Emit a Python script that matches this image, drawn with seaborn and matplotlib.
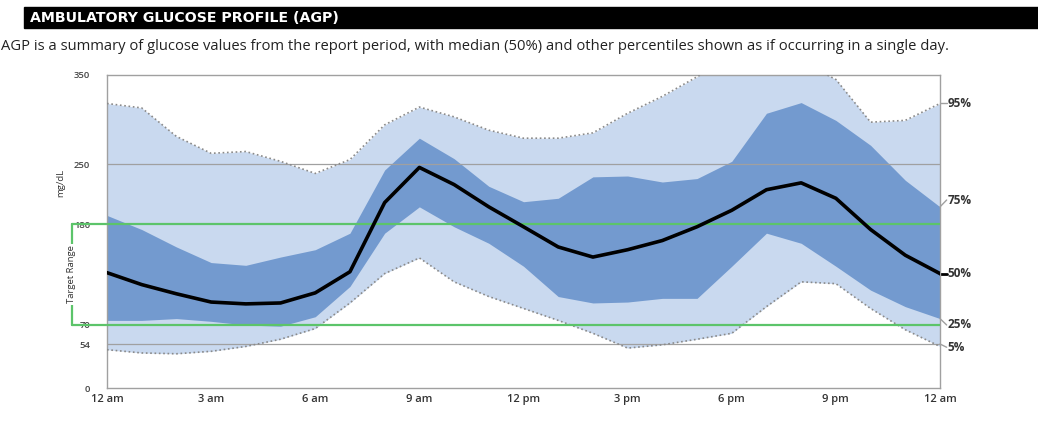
import numpy as np
import pandas as pd
import matplotlib
matplotlib.use('Agg')
import matplotlib.pyplot as plt
import seaborn as sns

sns.set_style("white")
plt.rcParams['font.family'] = ['Open Sans', 'DejaVu Sans']

# glucose percentiles (mg/dL), hourly from 12 am to 12 am
hours = list(range(25))
p95 = [318, 313, 281, 262, 264, 253, 239, 255, 294, 314, 303, 288, 279,
       279, 285, 307, 326, 348, 370, 375, 365, 345, 297, 299, 318]
p75 = [190, 174, 155, 138, 135, 144, 152, 170, 243, 279, 256, 224, 206,
       210, 235, 236, 229, 233, 253, 307, 319, 299, 271, 231, 200]
p50 = [127, 114, 104, 95, 93, 94, 105, 128, 205, 246, 226, 200, 177,
       155, 144, 152, 162, 177, 196, 220, 228, 210, 174, 146, 126]
p25 = [75, 75, 77, 74, 70, 69, 79, 112, 170, 200, 177, 159, 134,
       101, 94, 95, 99, 99, 134, 170, 159, 134, 108, 90, 77]
p05 = [47, 43, 42, 45, 51, 58, 67, 94, 126, 143, 117, 101, 88,
       75, 63, 49, 53, 58, 63, 90, 117, 115, 88, 66, 51]

y_ticks = [0, 54, 70, 180, 250, 350]
x_ticks = [0, 3, 6, 9, 12, 15, 18, 21, 24]
x_labels = ["12 am", "3 am", "6 am", "9 am", "12 pm", "3 pm", "6 pm", "9 pm", "12 am"]
pct_labels = ["95%", "75%", "50%", "25%", "5%"]

df = pd.DataFrame({"hour": hours, "p95": p95, "p75": p75, "p50": p50,
                   "p25": p25, "p05": p05})

# the report stretches the glucose axis unevenly between its tick values
_vals = np.array([-100, 0, 54, 70, 180, 250, 350, 500], dtype=float)
_pix = np.array([-81, 0, 44, 63, 164, 224, 313, 446.5])


def _fwd(v):
    return np.interp(v, _vals, _pix)


def _inv(u):
    return np.interp(u, _pix, _vals)


LIGHT = "#c9d9ef"
DARK = "#739acf"
GREEN = "#5cc46a"
GRID = "#a0a0a0"
TEXT = "#333333"

fig = plt.figure(figsize=(10.38, 4.25), dpi=100)
ax = fig.add_axes([107 / 1038, 1 - 388 / 425, (940 - 107) / 1038, (388 - 75) / 425])
ax.set_yscale('function', functions=(_fwd, _inv))

ax.fill_between(df["hour"], df["p05"], df["p95"], color=LIGHT, lw=0, zorder=1)
ax.fill_between(df["hour"], df["p25"], df["p75"], color=DARK, lw=0, zorder=2)
sns.lineplot(data=df, x="hour", y="p95", ax=ax, color="#8a8a8a", lw=1.2,
             linestyle=(0, (1, 1.6)), zorder=3)
sns.lineplot(data=df, x="hour", y="p05", ax=ax, color="#8a8a8a", lw=1.2,
             linestyle=(0, (1, 1.6)), zorder=3)
sns.lineplot(data=df, x="hour", y="p50", ax=ax, color="black", lw=2.6, zorder=5)

# reference lines
for yv in (250, 54):
    ax.axhline(yv, color=GRID, lw=0.9, zorder=2.5)
for yv in (70, 180):
    ax.axhline(yv, color=GREEN, lw=1.6, zorder=4)

ax.set_xlim(0, 24)
ax.set_ylim(0, 350)
ax.set_xticks(x_ticks)
ax.set_xticklabels(x_labels)
ax.set_xticks(hours, minor=True)
ax.set_yticks(y_ticks)
ax.set_yticklabels([str(v) for v in y_ticks])
ax.tick_params(axis='x', which='both', length=3, color=GRID, direction='inout',
               labelsize=8, labelcolor=TEXT, pad=3)
ax.tick_params(axis='y', length=0, labelsize=6.8, labelcolor="#444444", pad=12)
for lab in ax.get_xticklabels() + ax.get_yticklabels():
    lab.set_fontweight('semibold')
ax.set_xlabel("")
ax.set_ylabel("")
for sp in ax.spines.values():
    sp.set_color(GRID)
    sp.set_linewidth(1.0)

# target range bracket on the left
trans = ax.get_yaxis_transform()
bx = -35 / 833
ax.plot([bx, 0], [180, 180], color=GREEN, lw=1.6, transform=trans, clip_on=False)
ax.plot([bx, 0], [70, 70], color=GREEN, lw=1.6, transform=trans, clip_on=False)
ax.plot([bx, bx], [70, 180], color=GREEN, lw=1.6, transform=trans, clip_on=False)
ax.text(bx, 125, "Target Range", rotation=90, ha='center', va='center',
        fontsize=6.8, color=TEXT, transform=trans,
        bbox=dict(facecolor='white', edgecolor='none', pad=1.0))
ax.text(-46 / 833, 228, "mg/dL", rotation=90, ha='center', va='center',
        fontsize=6.8, color=TEXT, transform=trans)

# percentile labels on the right
label_y = [p95[-1], 208, p50[-1], 70, 50]
end_y = [p95[-1], p75[-1], p50[-1], p25[-1], 54]
for lab, ly, ey in zip(pct_labels, label_y, end_y):
    ax.plot([1.0, 1.008], [ey, ly], color=GRID if lab != "50%" else "black",
            lw=1.0 if lab != "50%" else 2.0, transform=trans, clip_on=False)
    ax.text(1.009, ly, lab, ha='left', va='center', fontsize=8.5,
            fontweight='bold', color=TEXT, transform=trans)

# header bar and description
fig.patches.append(plt.Rectangle((24 / 1038, 1 - 28 / 425), 1 - 24 / 1038, 21 / 425,
                                 transform=fig.transFigure, color='black', zorder=0))
fig.text(30 / 1038, 1 - 17.5 / 425, "AMBULATORY GLUCOSE PROFILE (AGP)", color='white',
         fontsize=10.2, fontweight='bold', family=['DejaVu Sans'], va='center', ha='left')
fig.text(1 / 1038, 1 - 46 / 425,
         "AGP is a summary of glucose values from the report period, with median (50%) "
         "and other percentiles shown as if occurring in a single day.",
         fontsize=10.6, color="#222222", va='center', ha='left')

fig.savefig("out.png", dpi=100)
plt.close(fig)
